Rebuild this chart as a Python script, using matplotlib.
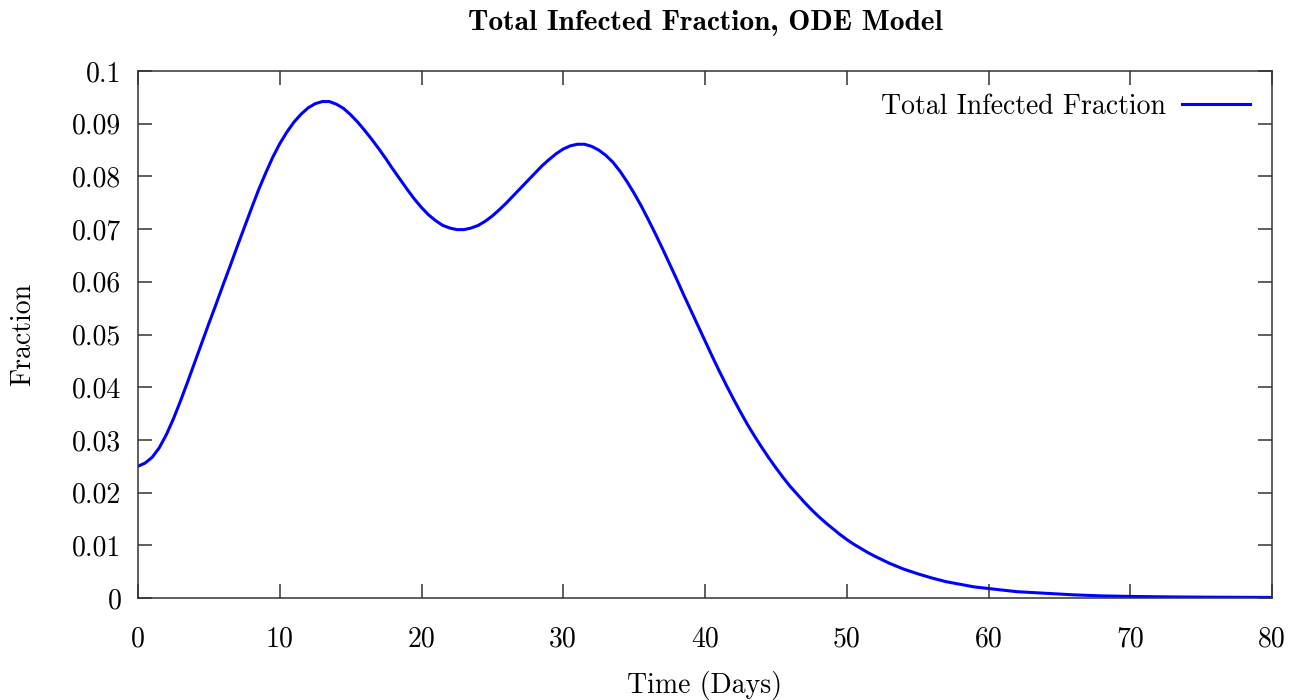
import matplotlib
matplotlib.use("Agg")
import matplotlib.pyplot as plt

# Data
days = [0, 0.5, 1, 1.5, 2, 2.5, 3, 3.5, 4, 4.5, 5, 5.5, 6, 6.5, 7, 7.5, 8, 8.5,
        9, 9.5, 10, 10.5, 11, 11.5, 12, 12.5, 13, 13.5, 14, 14.5, 15, 15.5,
        16, 16.5, 17, 17.5, 18, 18.5, 19, 19.5, 20, 20.5, 21, 21.5, 22, 22.5,
        23, 23.5, 24, 24.5, 25, 25.5, 26, 26.5, 27, 27.5, 28, 28.5, 29, 29.5,
        30, 30.5, 31, 31.5, 32, 32.5, 33, 33.5, 34, 34.5, 35, 35.5, 36, 36.5,
        37, 37.5, 38, 38.5, 39, 39.5, 40, 40.5, 41, 41.5, 42, 42.5, 43, 43.5,
        44, 44.5, 45, 45.5, 46, 46.5, 47, 47.5, 48, 48.5, 49, 49.5, 50, 50.5,
        51, 51.5, 52, 53, 54, 55, 56, 57, 58, 59, 60, 61, 62, 64, 66, 68, 70,
        73, 76, 80]
infected = [0.0250, 0.0256, 0.0267, 0.0285, 0.0310, 0.0340, 0.0374, 0.0410,
            0.0447, 0.0484, 0.0521, 0.0557, 0.0594, 0.0630, 0.0667, 0.0703,
            0.0739, 0.0774, 0.0806, 0.0836, 0.0862, 0.0884, 0.0903, 0.0918,
            0.0930, 0.0938, 0.0942, 0.0942, 0.0937, 0.0929, 0.0917, 0.0903,
            0.0887, 0.0870, 0.0852, 0.0833, 0.0813, 0.0794, 0.0775, 0.0757,
            0.0741, 0.0727, 0.0716, 0.0707, 0.0702, 0.0699, 0.0699, 0.0702,
            0.0707, 0.0715, 0.0725, 0.0737, 0.0750, 0.0764, 0.0778, 0.0792,
            0.0806, 0.0820, 0.0832, 0.0843, 0.0852, 0.0858, 0.0861, 0.0861,
            0.0857, 0.0850, 0.0840, 0.0827, 0.0810, 0.0790, 0.0768, 0.0744,
            0.0718, 0.0691, 0.0663, 0.0634, 0.0605, 0.0575, 0.0546, 0.0517,
            0.0488, 0.0459, 0.0431, 0.0404, 0.0378, 0.0353, 0.0329, 0.0307,
            0.0286, 0.0266, 0.0247, 0.0229, 0.0212, 0.0197, 0.0182, 0.0168,
            0.0155, 0.0143, 0.0132, 0.0121, 0.0111, 0.0102, 0.0094, 0.0086,
            0.0079, 0.0066, 0.0055, 0.0046, 0.0038, 0.0031, 0.0026, 0.0021,
            0.0018, 0.0015, 0.0012, 0.0009, 0.0006, 0.0004, 0.0003, 0.0002,
            0.00015, 0.0001]

xticks = [0, 10, 20, 30, 40, 50, 60, 70, 80]
xtick_labels = ["0", "10", "20", "30", "40", "50", "60", "70", "80"]
yticks = [0, 0.01, 0.02, 0.03, 0.04, 0.05, 0.06, 0.07, 0.08, 0.09, 0.1]
ytick_labels = ["0", "0.01", "0.02", "0.03", "0.04", "0.05", "0.06", "0.07",
                "0.08", "0.09", "0.1"]

title = "Total Infected Fraction, ODE Model"
series_label = "Total Infected Fraction"
xlabel = "Time (Days)"
ylabel = "Fraction"

plt.rcParams['font.family'] = ['cmr10', 'DejaVu Serif']
plt.rcParams['axes.unicode_minus'] = False
plt.rcParams['axes.formatter.use_mathtext'] = True

fs = 20

fig = plt.figure(figsize=(13.05, 7.0), dpi=100)
ax = fig.add_axes([138 / 1305, 1 - 598 / 700, (1272 - 138) / 1305, (598 - 71) / 700])

ax.plot(days, infected, color=(0, 0, 1), lw=2.2, label=series_label,
        solid_joinstyle='round')

ax.set_xlim(0, 80)
ax.set_ylim(0, 0.1)
ax.set_xticks(xticks)
ax.set_xticklabels(xtick_labels)
ax.set_yticks(yticks)
ax.set_yticklabels(ytick_labels)

ax.tick_params(direction='in', length=10, width=1.1, color='#333333',
               top=True, right=True, labelsize=fs, pad=12)
ax.tick_params(axis='x', pad=20)
for s in ax.spines.values():
    s.set_linewidth(1.1)
    s.set_color('#333333')

xc = (138 + 1272) / 2 / 1305
fig.text(xc, 1 - 23 / 700, title, ha='center', va='center',
         fontsize=21.2, family=['cmb10', 'DejaVu Serif'])
fig.text(xc, 1 - 685 / 700, xlabel, ha='center', va='center', fontsize=fs)
fig.text(23 / 1305, 1 - 334 / 700, ylabel, ha='center', va='center',
         rotation=90, fontsize=fs)

leg = ax.legend(loc='upper right', frameon=False, fontsize=fs,
                markerfirst=False, handlelength=2.45, handletextpad=0.55,
                borderaxespad=0.4)

fig.savefig("out.png", dpi=100)
